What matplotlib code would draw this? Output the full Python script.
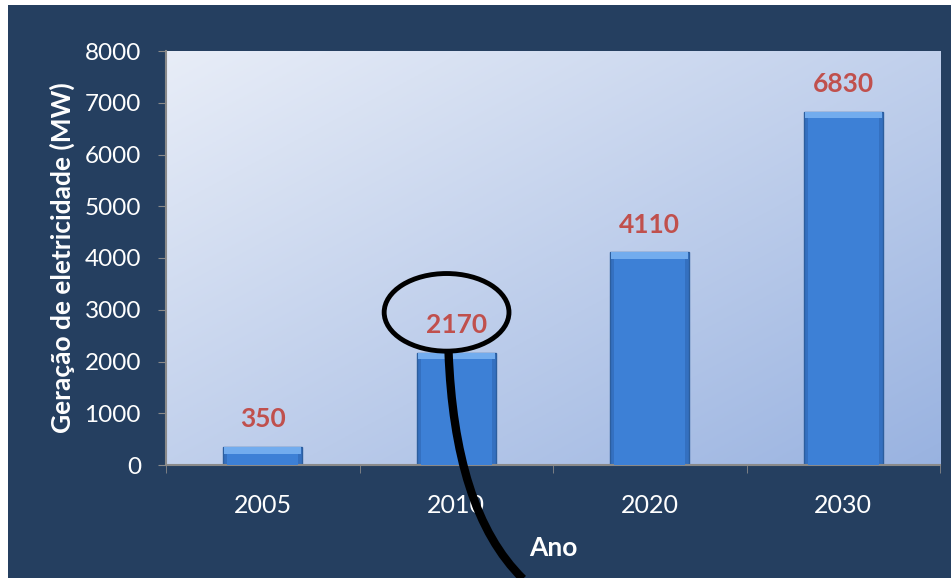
import numpy as np
import matplotlib.pyplot as plt
from matplotlib.patches import Ellipse, Rectangle, PathPatch
from matplotlib.path import Path

anos    = ['2005', '2010', '2020', '2030']
geracao = [350, 2170, 4110, 6830]
yticks  = [0, 1000, 2000, 3000, 4000, 5000, 6000, 7000, 8000]

NAVY = '#253f60'
RED  = '#c0504d'
GRAY = '#8a8a8a'

plt.rcParams['font.family'] = ['Lato', 'DejaVu Sans']

fig = plt.figure(figsize=(9.51, 5.78), dpi=100, facecolor='white')
# navy card (thin white strip on top and left)
fig.add_artist(Rectangle((8 / 951, 0), 1, 1 - 5 / 578, transform=fig.transFigure,
                         facecolor=NAVY, edgecolor='none', zorder=-10))

ax = fig.add_axes([166 / 951, 113 / 578, 774 / 951, 414 / 578])
ax.set_facecolor('none')

# diagonal gradient for plot area
n = 200
gx, gy = np.meshgrid(np.linspace(0, 1, n), np.linspace(0, 1, n))
t = (gx + gy) / 2  # 0 top-left -> 1 bottom-right (origin upper)
c0 = np.array([0.91, 0.93, 0.97])
c1 = np.array([0.60, 0.70, 0.88])
img = c0 + (c1 - c0) * t[..., None]
ax.imshow(img, extent=[0, 1, 0, 1], transform=ax.transAxes, origin='upper',
          aspect='auto', zorder=0)

x = np.arange(len(anos)) + 0.5
w = 0.41
ax.bar(x, geracao, width=w, color='#3470c0', edgecolor='#2c5e9e', linewidth=1.0, zorder=2)
# bevel: light top strip, lighter body
bev = 130
ax.bar(x, [bev] * len(x), bottom=[v - bev for v in geracao], width=w * 0.97,
       color='#72acee', edgecolor='none', zorder=3)
ax.bar(x, [v - bev for v in geracao], width=w * 0.9, color='#3d80d6',
       edgecolor='none', zorder=3)

for xi, v in zip(x, geracao):
    ax.annotate(str(v), (xi, v), xytext=(0, 20), textcoords='offset points',
                ha='center', va='center', color=RED, fontsize=19, fontweight='bold',
                zorder=4)

ax.set_xlim(0, 4)
ax.set_ylim(0, 8000)
ax.set_yticks(yticks)
ax.set_yticklabels([str(v) for v in yticks])
ax.set_xticks(x)
ax.set_xticklabels(anos)
ax.set_xticks(np.arange(0, 5), minor=True)

ax.tick_params(axis='y', colors=GRAY, labelcolor='white', labelsize=17.5, length=6, pad=12)
ax.tick_params(axis='x', which='major', length=0, labelcolor='white', labelsize=18, pad=21)
ax.tick_params(axis='x', which='minor', length=6, color=GRAY)

for s in ['top', 'right']:
    ax.spines[s].set_visible(False)
for s in ['left', 'bottom']:
    ax.spines[s].set_color(GRAY)
    ax.spines[s].set_linewidth(1.5)

ax.set_ylabel('Geração de eletricidade (MW)', color='white', fontsize=19, fontweight='bold')
ax.yaxis.set_label_coords(-0.117, 0.502)
ax.set_xlabel('Ano', color='white', fontsize=19, fontweight='bold')
ax.xaxis.set_label_coords(0.5, -0.172)

# hand-drawn highlight around the 2010 value
ax.add_patch(Ellipse((1.45, 2950), 0.645, 1500, facecolor='none', edgecolor='black',
                     linewidth=3.5, zorder=5, clip_on=False))
verts = [(1.46, 2200), (1.48, 200), (1.6, -1300), (1.845, -2200)]
codes = [Path.MOVETO, Path.CURVE4, Path.CURVE4, Path.CURVE4]
ax.add_patch(PathPatch(Path(verts, codes), facecolor='none', edgecolor='black',
                       linewidth=6, zorder=5, clip_on=False))

fig.savefig('out.png', dpi=100, facecolor=fig.get_facecolor())
